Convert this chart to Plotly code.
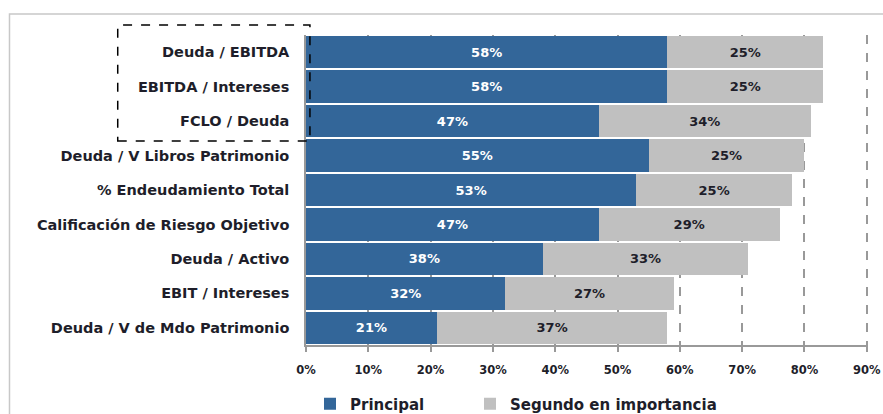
import plotly.graph_objects as go

# Indicadores evaluados (de arriba hacia abajo)
categorias = [
    "Deuda / EBITDA",
    "EBITDA / Intereses",
    "FCLO / Deuda",
    "Deuda / V Libros Patrimonio",
    "% Endeudamiento Total",
    "Calificación de Riesgo Objetivo",
    "Deuda / Activo",
    "EBIT / Intereses",
    "Deuda / V de Mdo Patrimonio",
]
principal = [58, 58, 47, 55, 53, 47, 38, 32, 21]
segundo = [25, 25, 34, 25, 25, 29, 33, 27, 37]
ticks_x = [0, 10, 20, 30, 40, 50, 60, 70, 80, 90]

AZUL = "#336699"
GRIS = "#C0C0C0"
TEXTO = "#1e1e2a"
FUENTE = "DejaVu Sans"

W, H = 883, 414
fig = go.Figure()
fig.add_trace(go.Bar(
    y=categorias, x=principal, orientation="h", name="Principal",
    marker=dict(color=AZUL, line=dict(width=0)),
    text=[f"{v}%" for v in principal], textposition="inside",
    insidetextanchor="middle",
    textfont=dict(family=FUENTE, size=13, color="white", weight="bold"),
    legend="legend",
))
fig.add_trace(go.Bar(
    y=categorias, x=segundo, orientation="h", name="Segundo en importancia",
    marker=dict(color=GRIS, line=dict(width=0)),
    text=[f"{v}%" for v in segundo], textposition="inside",
    insidetextanchor="middle",
    textfont=dict(family=FUENTE, size=13, color=TEXTO, weight="bold"),
    legend="legend2",
))

# Recuadro punteado sobre los tres primeros indicadores
fig.add_shape(type="rect", xref="paper", yref="paper",
              x0=-0.335, x1=0.007, y0=0.658, y1=1.032,
              line=dict(color="black", width=1.5, dash="dash"))
# Marco exterior del gráfico
fig.add_shape(type="rect", xref="paper", yref="paper",
              x0=-0.5276, x1=1.2, y0=-0.5, y1=1.068,
              line=dict(color="#c8c8c8", width=1.5))

leyenda = dict(orientation="h", xref="container", yref="container",
               xanchor="left", yanchor="middle", y=1 - 404 / H,
               font=dict(size=15, family=FUENTE, color=TEXTO, weight="bold"),
               bgcolor="rgba(0,0,0,0)")

fig.update_layout(
    width=W, height=H,
    margin=dict(l=306, r=15, t=35, b=69, autoexpand=False),
    paper_bgcolor="white", plot_bgcolor="white",
    barmode="stack", bargap=0.06,
    font=dict(family=FUENTE, color=TEXTO),
    showlegend=True,
    legend=dict(leyenda, x=310 / W),
    legend2=dict(leyenda, x=470 / W),
    uniformtext=dict(mode="show", minsize=11),
)
fig.update_xaxes(
    range=[0, 90.2], tickvals=ticks_x, ticktext=[f"{t}%" for t in ticks_x],
    showgrid=True, gridcolor="#999999", griddash="dash", gridwidth=1.5,
    showline=True, linecolor="#999999", linewidth=1.5,
    ticks="outside", ticklen=5, tickcolor="#999999", tickwidth=1.5,
    tickfont=dict(size=11.5, family=FUENTE, color=TEXTO, weight="bold"),
    ticklabelstandoff=8, zeroline=False, automargin=False,
)
fig.update_yaxes(
    categoryorder="array", categoryarray=categorias, autorange="reversed",
    showline=True, linecolor="#999999", linewidth=1.5, ticks="",
    tickfont=dict(size=14.5, family=FUENTE, color=TEXTO, weight="bold"),
    ticklabelstandoff=12, showgrid=False, automargin=False,
)

fig.write_html("out.html")
